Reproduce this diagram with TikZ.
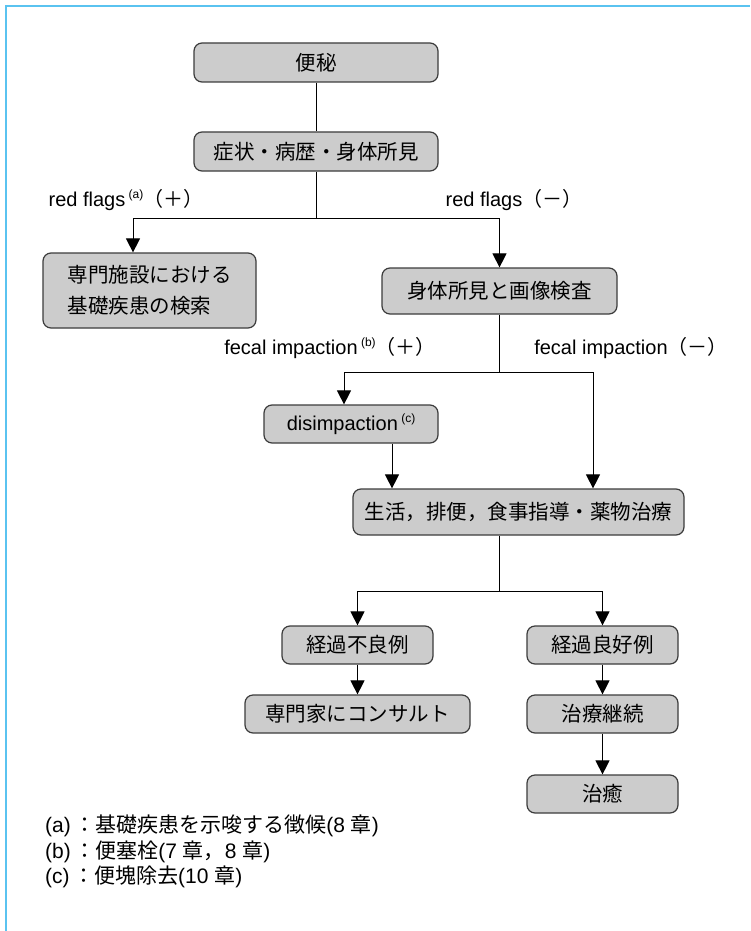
\documentclass[tikz,border=0pt]{standalone}
\usepackage{fontspec}
\setmainfont{Liberation Sans}
\newfontfamily\jp{Noto Sans CJK JP}
\usetikzlibrary{arrows.meta}
\definecolor{boxgray}{RGB}{204,204,204}
\definecolor{boxline}{RGB}{60,60,60}
\definecolor{framecol}{RGB}{90,195,240}
\tikzset{
  flowbox/.style={draw=boxline, line width=1.2pt, fill=boxgray, rounded corners=8pt, inner sep=0pt, font=\jp\fontsize{20.5}{24}\selectfont},
  conn/.style={line width=1pt, black},
  arr/.style={conn, -{Triangle[width=14pt,length=14pt]}},
  lbl/.style={inner sep=0pt, font=\fontsize{20}{24}\selectfont},
  note/.style={inner sep=0pt, anchor=west, font=\fontsize{21}{25}\selectfont},
}
\newcommand{\supl}[1]{\,\raisebox{8pt}{\fontsize{12}{14}\selectfont(#1)}}
\begin{document}
\begin{tikzpicture}[x=1pt,y=-1pt]
\useasboundingbox (0,0) rectangle (750,931);
\fill[white] (0,0) rectangle (750,931);
\draw[framecol, line width=2pt] (6,931) -- (6,6) -- (750,6);

% boxes
\node[flowbox, minimum width=244pt, minimum height=39pt] (benpi) at (316,62.5) {便秘};
\node[flowbox, minimum width=244pt, minimum height=39pt] (shojo) at (316,151.5) {症状・病歴・身体所見};
\node[flowbox, minimum width=213pt, minimum height=75pt, align=left, font=\jp\fontsize{20.5}{31}\selectfont] (senmon) at (149.5,290.5) {専門施設における\\基礎疾患の検索};
\node[flowbox, minimum width=235pt, minimum height=46pt] (shintai) at (499.5,291) {身体所見と画像検査};
\node[flowbox, minimum width=174pt, minimum height=38pt, font=\fontsize{20}{24}\selectfont] (disimp) at (351,424) {disimpaction\supl{c}};
\node[flowbox, minimum width=331pt, minimum height=46pt] (seikatsu) at (518.5,512) {生活，排便，食事指導・薬物治療};
\node[flowbox, minimum width=151pt, minimum height=38pt] (furyo) at (357.5,645) {経過不良例};
\node[flowbox, minimum width=151pt, minimum height=38pt] (ryoko) at (602.5,645) {経過良好例};
\node[flowbox, minimum width=225pt, minimum height=38pt] (consult) at (357.5,714) {専門家にコンサルト};
\node[flowbox, minimum width=151pt, minimum height=38pt] (keizoku) at (602.5,714) {治療継続};
\node[flowbox, minimum width=151pt, minimum height=38pt] (chiyu) at (602.5,794) {治癒};

% labels
\node[lbl] (rfp) at (126,200) {red flags\supl{a}{\jp（＋）}};
\node[lbl] (rfm) at (514,200) {red flags{\jp（－）}};
\node[lbl] (fip) at (330,348) {fecal impaction\supl{b}{\jp（＋）}};
\node[lbl] (fim) at (631,348) {fecal impaction{\jp（－）}};

% connectors
\coordinate (b1) at (316,218);
\coordinate (b1l) at (133,218);
\draw[conn] (benpi) -- (shojo);
\draw[conn] (shojo) -- (b1);
\draw[arr] (b1) -- (b1l) -- (b1l |- senmon.north);
\draw[arr] (b1) -| (shintai.north);

\coordinate (b2) at (499.5,372);
\coordinate (b2l) at (344,372);
\coordinate (b2r) at (593,372);
\draw[conn] (shintai) -- (b2);
\draw[arr] (b2) -- (b2l) -- (b2l |- disimp.north);
\draw[arr] (b2) -- (b2r) -- (b2r |- seikatsu.north);
\coordinate (x3) at (392,0);
\draw[arr] (x3 |- disimp.south) -- (x3 |- seikatsu.north);

\coordinate (x4) at (499.5,0);
\coordinate (b3) at (499.5,591);
\draw[conn] (x4 |- seikatsu.south) -- (b3);
\draw[arr] (b3) -| (furyo.north);
\draw[arr] (b3) -| (ryoko.north);
\draw[arr] (furyo) -- (consult);
\draw[arr] (ryoko) -- (keizoku);
\draw[arr] (keizoku) -- (chiyu);

% notes
\node[note] (na) at (45,826) {(a)\,{\jp：基礎疾患を示唆する徴候}(8 {\jp 章})};
\node[note] (nb) at (45,852) {(b)\,{\jp：便塞栓}(7 {\jp 章，}8 {\jp 章})};
\node[note] (nc) at (45,877) {(c)\,{\jp：便塊除去}(10 {\jp 章})};
\end{tikzpicture}
\end{document}
